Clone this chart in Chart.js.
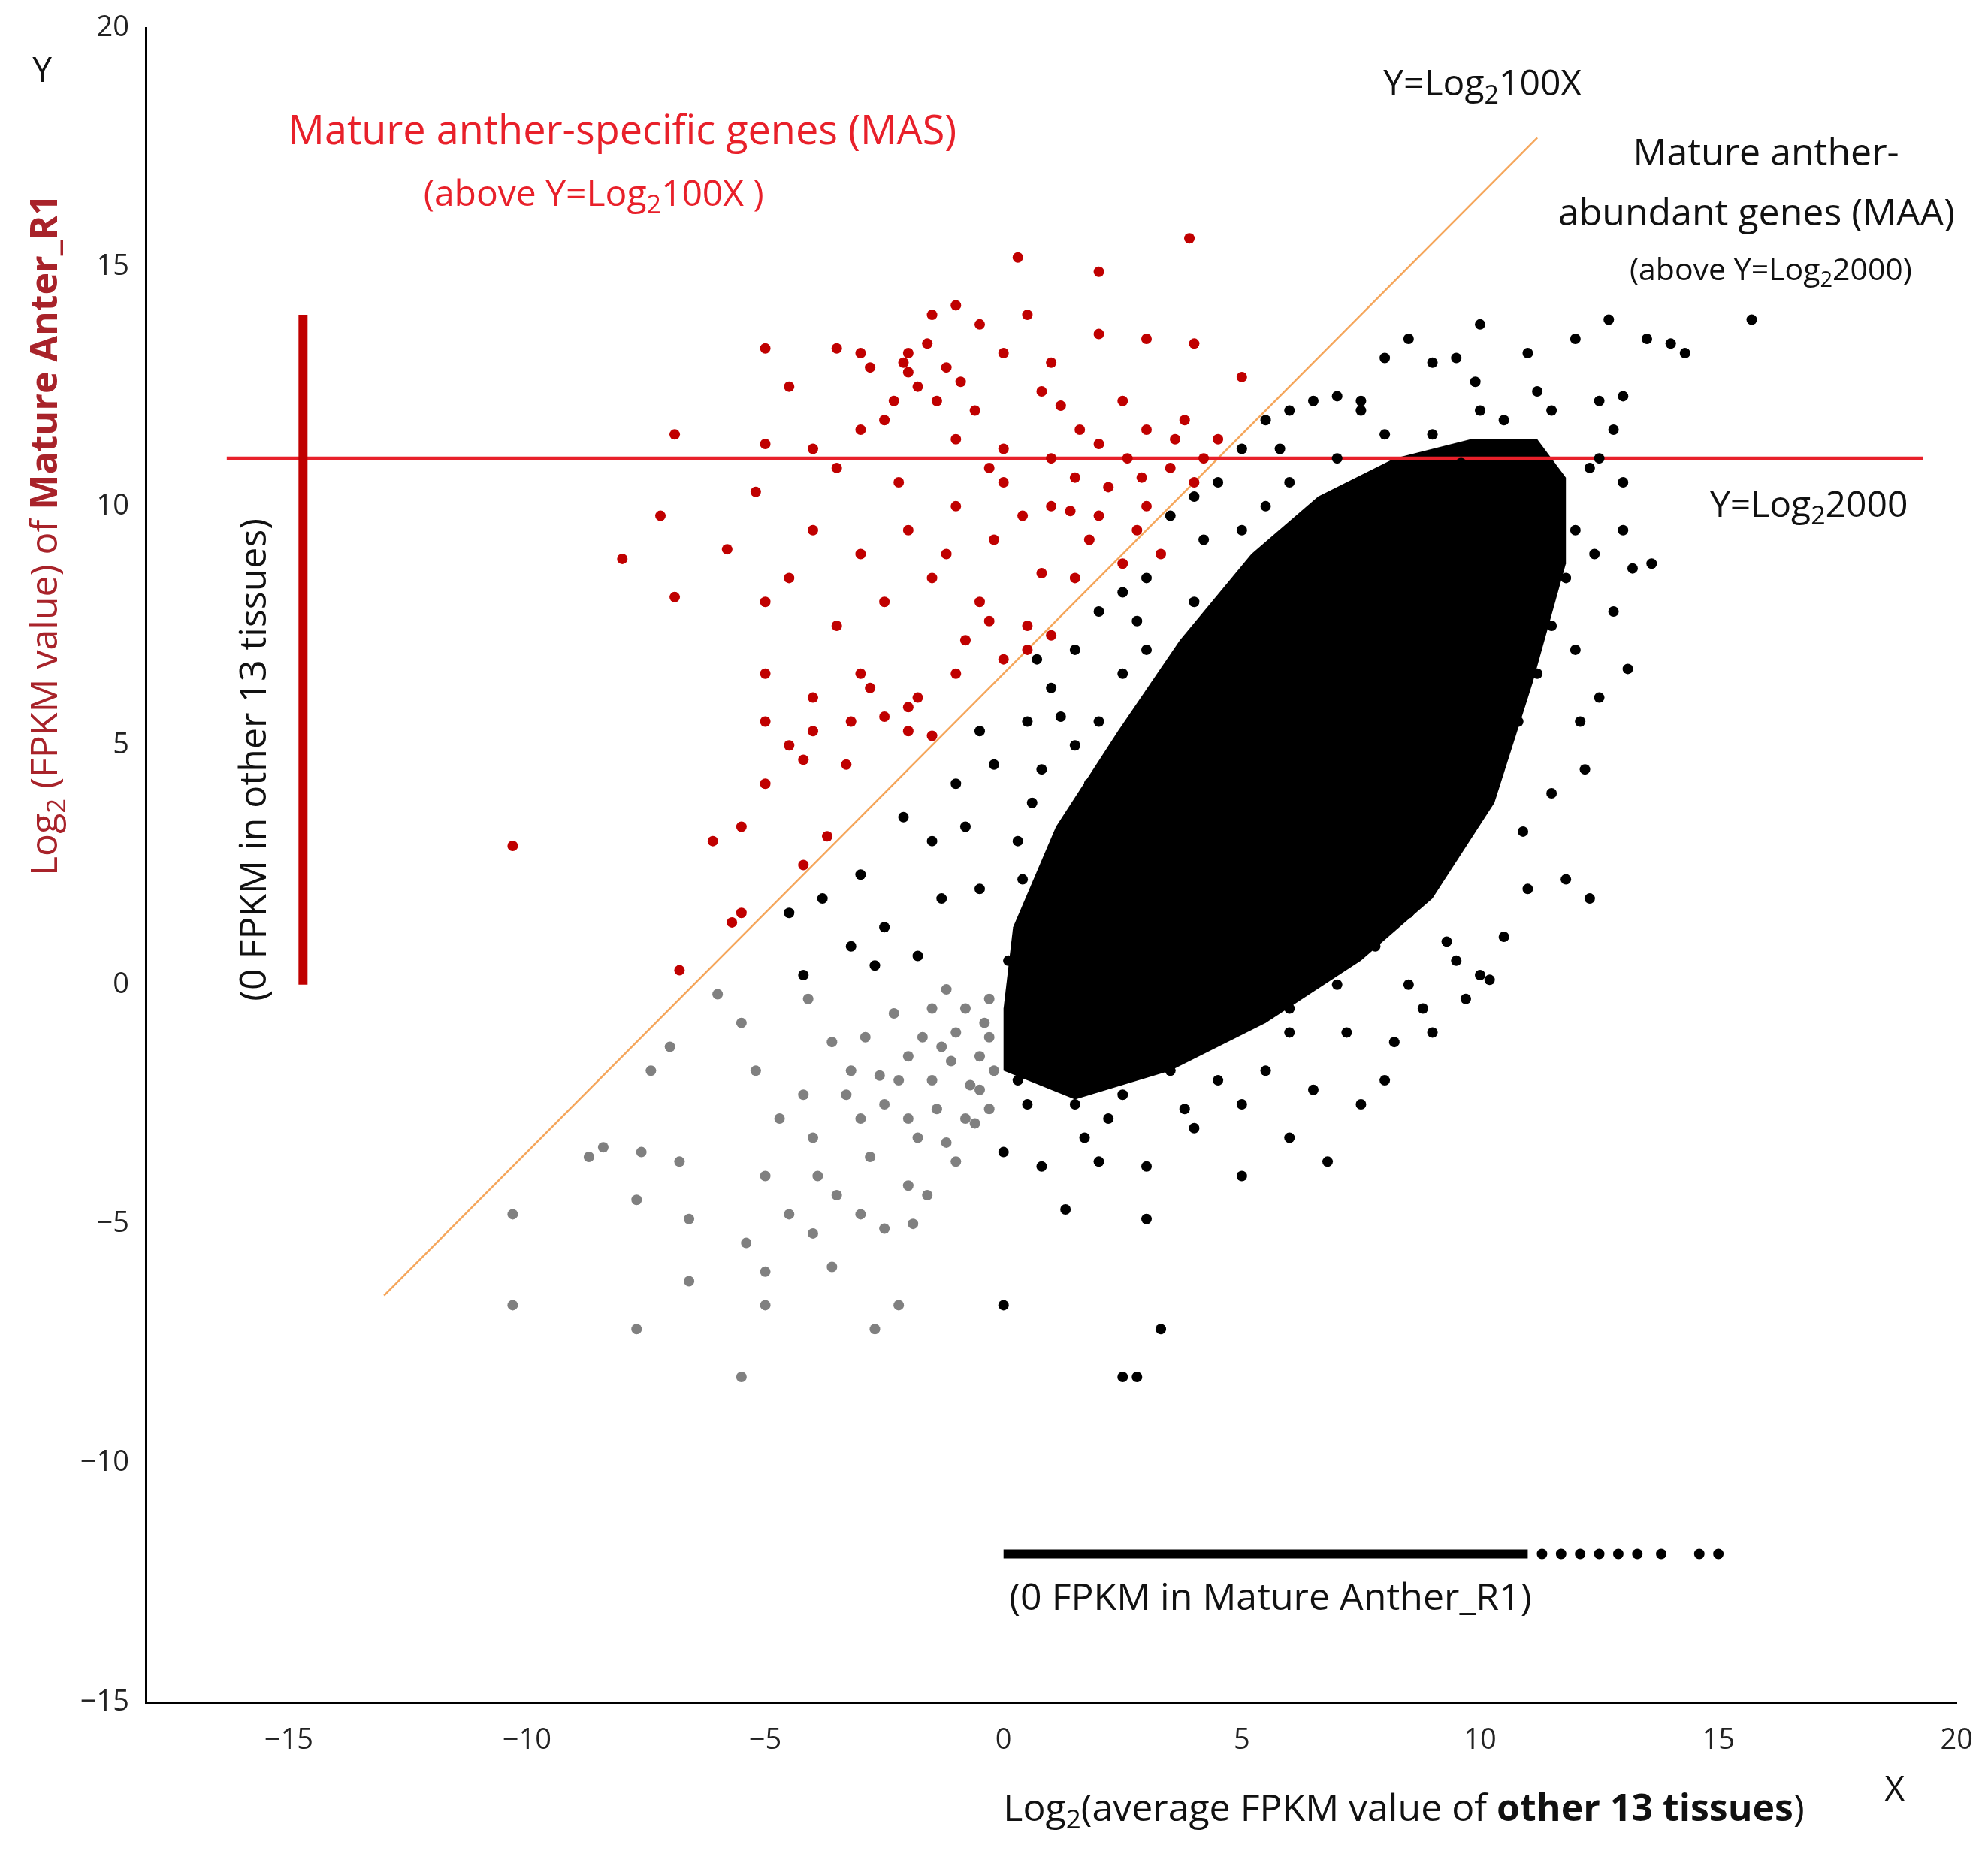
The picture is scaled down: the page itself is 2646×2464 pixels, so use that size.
<!DOCTYPE html>
<html><head><meta charset="utf-8">
<script src="https://cdn.jsdelivr.net/npm/chart.js@4/dist/chart.umd.min.js"></script>
<style>html,body{margin:0;background:#fff}#w{width:2646px;height:2464px}</style>
</head><body><div id="w"><canvas id="c"></canvas></div>
<script>
const xTicks=[-15,-10,-5,0,5,10,15,20];
const yTicks=[-15,-10,-5,0,5,10,15,20];
const masPoints=[[-5,13.3],[-4.5,12.5],[-3.5,13.3],[-3,13.2],[-2,13.2],[-1.5,14],[-1,14.2],[-0.5,13.8],[0,13.2],[0.5,14],[1,13],[2,13.6],[3,13.5],[4,13.4],[0.3,15.2],[2,14.9],[3.9,15.6],[-2,12.8],[-1.8,12.5],[-1.2,12.9],[-2.3,12.2],[-2.5,11.8],[-3,11.6],[-4,11.2],[-5,11.3],[-5.2,10.3],[-3.5,10.8],[-1,11.4],[0,11.2],[1,11],[2,11.3],[3,11.6],[3.8,11.8],[4.5,11.4],[5,12.7],[-6.9,11.5],[-7.2,9.8],[-8,8.9],[-6.9,8.1],[-5.8,9.1],[-5,8],[-4,9.5],[-3,9],[-2,9.5],[-1,10],[0,10.5],[1,10],[2,9.8],[3,10],[4,10.5],[-4.5,8.5],[-3.5,7.5],[-2.5,8],[-1.5,8.5],[-0.5,8],[0.5,7.5],[1.5,8.5],[2.5,8.8],[3.3,9],[-5,6.5],[-4,6],[-3,6.5],[-2,5.8],[-1.5,5.2],[-1,6.5],[0,6.8],[0.5,7],[1,7.3],[-5,5.5],[-4.5,5],[-4,5.3],[-3.2,5.5],[-2.5,5.6],[-2,5.3],[-3.3,4.6],[-5,4.2],[-6.1,3],[-5.5,3.3],[-5.5,1.5],[-5.7,1.3],[-4.2,2.5],[-3.7,3.1],[-10.3,2.9],[-6.8,0.3],[-1.8,6],[-0.8,7.2],[1.8,9.3],[2.8,9.5],[-2.2,10.5],[-0.3,10.8],[1.2,12.1],[-2.8,12.9],[-1.6,13.4],[-0.9,12.6],[0.8,12.4],[2.5,12.2],[3.5,10.8],[4.2,11],[1.5,10.6],[-0.2,9.3],[0.8,8.6],[2.2,10.4],[-2.1,13.0],[-1.4,12.2],[-0.6,12.0],[1.6,11.6],[0.4,9.8],[-1.2,9.0],[2.6,11.0],[3.6,11.4],[-4.2,4.7],[-2.8,6.2],[-0.3,7.6],[1.4,9.9],[2.9,10.6]];
const grayPoints=[[-6,-0.2],[-5.5,-0.8],[-7,-1.3],[-7.4,-1.8],[-8.4,-3.4],[-8.7,-3.6],[-7.6,-3.5],[-6.8,-3.7],[-10.3,-4.8],[-7.7,-4.5],[-6.6,-4.9],[-10.3,-6.7],[-7.7,-7.2],[-6.6,-6.2],[-5.4,-5.4],[-5,-6],[-5,-6.7],[-5.5,-8.2],[-2.7,-7.2],[-2.2,-6.7],[-3.6,-5.9],[-4,-5.2],[-3.5,-4.4],[-2,-4.2],[-1,-3.7],[-4,-3.2],[-3,-2.8],[-2.5,-2.5],[-1.5,-2],[-0.5,-1.5],[-1,-1],[-2,-1.5],[-0.3,-0.3],[-1.5,-0.5],[-0.8,-2.8],[-2.8,-3.6],[-4.2,-2.3],[-3.2,-1.8],[-1.8,-3.2],[-0.5,-2.2],[-5,-4],[-4.5,-4.8],[-2.5,-5.1],[-4.7,-2.8],[-3.6,-1.2],[-2.3,-0.6],[-1.2,-0.1],[-0.2,-1.8],[-5.2,-1.8],[-4.1,-0.3],[-0.6,-2.9],[-1.4,-2.6],[-3,-4.8],[-1.9,-5],[-2.2,-2],[-1.1,-1.6],[-0.4,-0.8],[-2.9,-1.1],[-3.9,-4],[-1.6,-4.4],[-0.8,-0.5],[-0.3,-1.1],[-1.3,-1.3],[-0.7,-2.1],[-1.7,-1.1],[-2.6,-1.9],[-3.3,-2.3],[-2.0,-2.8],[-1.2,-3.3],[-0.3,-2.6]];
const blackPoints=[[-4.5,1.5],[-3.8,1.8],[-3,2.3],[-2.5,1.2],[-2.1,3.5],[-1.5,3],[-1,4.2],[-0.5,2],[-1.8,0.6],[-3.2,0.8],[-4.2,0.2],[-2.7,0.4],[0.5,5.5],[1,6.2],[1.5,7],[2,7.8],[2.5,8.2],[3,8.5],[3.5,9.8],[4,10.2],[4.5,10.5],[5,11.2],[5.5,11.8],[6,12],[6.5,12.2],[7,12.3],[7.5,12.2],[8,13.1],[8.5,13.5],[9,13],[9.5,13.1],[10,13.8],[11,13.2],[12,13.5],[12.7,13.9],[13.5,13.5],[14,13.4],[14.3,13.2],[15.7,13.9],[11.5,12],[12.5,12.2],[13,12.3],[12.5,11],[13,10.5],[13,9.5],[13.2,8.7],[13.6,8.8],[12.8,7.8],[13.1,6.6],[12.5,6],[12.1,5.5],[12.2,4.5],[11.5,4],[11,2],[10.5,1],[10,0.2],[9.5,0.5],[11.8,2.2],[12.3,1.8],[9,-1],[8,-2],[7.5,-2.5],[6.8,-3.7],[6,-3.2],[5,-2.5],[5,-4],[4,-3],[3,-3.8],[3,-4.9],[2,-3.7],[1.3,-4.7],[0.8,-3.8],[0,-3.5],[0.5,-2.5],[1.5,-2.5],[2.5,-2.3],[3.5,-1.8],[0,-6.7],[3.3,-7.2],[2.5,-8.2],[2.8,-8.2],[4.5,-2],[6,-1],[8.5,0],[9.7,-0.3],[10.2,0.1],[0.3,3],[0.5,1],[1,-0.5],[0.8,4.5],[1.5,5],[2,5.5],[2.5,6.5],[3,7],[4,8],[5,9.5],[5.5,10],[6,10.5],[7,11],[8,11.5],[9,11.5],[10,12],[10.5,11.8],[11,11.2],[11.5,10.5],[12,9.5],[11.8,8.5],[11.5,7.5],[11.2,6.5],[10.8,5.5],[10.3,4.5],[9.8,3.5],[9.2,2.5],[8.5,1.5],[7.8,0.8],[7,0],[6,-0.5],[3.5,-0.5],[2,0],[1.5,1.5],[2,3],[1,2],[-0.2,4.6],[-0.5,5.3],[0.2,-1.2],[0.1,0.5],[0.3,-2],[1.2,-1.5],[2.2,-2.8],[4.2,-1.2],[5.5,-1.8],[7.2,-1],[8.8,-0.5],[0.4,2.2],[0.6,3.8],[1.8,4.2],[3.6,5.2],[4.6,7.5],[6.5,9.5],[8.5,10.8],[9.6,10.9],[10.8,10.2],[12.3,10.8],[12.8,11.6],[-1.3,1.8],[-0.8,3.3],[1.7,-3.2],[3.8,-2.6],[6.5,-2.2],[8.2,-1.2],[9.3,0.9],[10.9,3.2],[12.0,7.0],[12.4,9.0],[7.5,12.0],[4.2,9.3],[2.8,7.6],[1.2,5.6],[0.7,6.8],[5.8,11.2],[9.9,12.6],[11.2,12.4]];
const cloudOutline=[[0,-1.8],[1.5,-2.4],[3.5,-1.8],[5.5,-0.8],[7.5,0.5],[9,1.8],[10.3,3.8],[11.1,6.3],[11.8,8.8],[11.8,10.6],[11.2,11.4],[9.8,11.4],[8.2,11],[6.6,10.2],[5.2,9.0],[3.7,7.2],[2.4,5.3],[1.1,3.3],[0.2,1.2],[0,-0.5]];
const ownExprColumn=[[-14.7,0],[-14.7,14]];
const zeroAntherStrip=[[0,-11.9],[11,-11.9]];
const zeroAntherDots=[[11.3,-11.9],[11.7,-11.9],[12.1,-11.9],[12.5,-11.9],[12.9,-11.9],[13.3,-11.9],[13.8,-11.9],[14.6,-11.9],[15,-11.9]];
const lineMAA=[[-16.3,11],[19.3,11]];
const lineMAS=[[-13,-6.5],[11.2,17.7]];

const P=a=>a.map(p=>({x:p[0],y:p[1]}));
const FONT='"Open Sans","Noto Sans",sans-serif';

function rich(ctx,x,y,segs,size,align,color){
  ctx.save();ctx.fillStyle=color;ctx.textBaseline='middle';ctx.textAlign='left';
  const f=s=>(s.b?'bold ':'')+(s.sub?Math.round(size*0.7):size)+'px '+FONT;
  let w=0;segs.forEach(s=>{ctx.font=f(s);w+=ctx.measureText(s.t).width;});
  let cx=align==='center'?x-w/2:(align==='right'?x-w:x);
  segs.forEach(s=>{ctx.font=f(s);ctx.fillText(s.t,cx,y+(s.sub?size*0.3:0));cx+=ctx.measureText(s.t).width;});
  ctx.restore();
}
const cloudPlugin={id:'cloud',beforeDatasetsDraw(ch){
  const ctx=ch.ctx,X=ch.scales.x,Y=ch.scales.y;
  ctx.save();ctx.beginPath();
  cloudOutline.forEach((p,i)=>{const a=X.getPixelForValue(p[0]),b=Y.getPixelForValue(p[1]);i?ctx.lineTo(a,b):ctx.moveTo(a,b);});
  ctx.closePath();ctx.fillStyle='#000';ctx.fill();ctx.restore();
}};
const textPlugin={id:'txt',afterDraw(ch){
  const ctx=ch.ctx,X=ch.scales.x,Y=ch.scales.y;
  const px=v=>X.getPixelForValue(v),py=v=>Y.getPixelForValue(v);
  const red='#e8202a',blk='#111';
  rich(ctx,px(-8.0),py(17.8),[{t:'Mature anther-specific genes (MAS)'}],54,'center',red);
  rich(ctx,px(-8.6),py(16.5),[{t:'(above Y=Log'},{t:'2',sub:1},{t:'100X )'}],48,'center',red);
  rich(ctx,px(10.05),py(18.8),[{t:'Y=Log'},{t:'2',sub:1},{t:'100X'}],48,'center',blk);
  rich(ctx,px(16.0),py(17.35),[{t:'Mature anther-'}],50,'center',blk);
  rich(ctx,px(15.8),py(16.1),[{t:'abundant genes (MAA)'}],50,'center',blk);
  rich(ctx,px(16.1),py(14.9),[{t:'(above Y=Log'},{t:'2',sub:1},{t:'2000)'}],41,'center',blk);
  rich(ctx,px(16.9),py(10.0),[{t:'Y=Log'},{t:'2',sub:1},{t:'2000'}],48,'center',blk);
  rich(ctx,px(5.6),py(-12.85),[{t:'(0 FPKM in Mature Anther_R1)'}],50,'center',blk);
  rich(ctx,px(8.4),py(-17.25),[{t:'Log'},{t:'2',sub:1},{t:'(average FPKM value of '},{t:'other 13 tissues',b:1},{t:')'}],50,'center',blk);
  rich(ctx,px(18.7),py(-16.85),[{t:'X'}],46,'center',blk);
  rich(ctx,56,96,[{t:'Y'}],46,'center',blk);
  ctx.save();ctx.translate(px(-15.7),py(4.7));ctx.rotate(-Math.PI/2);
  rich(ctx,0,0,[{t:'(0 FPKM in other 13 tissues)'}],50,'center',blk);ctx.restore();
  ctx.save();ctx.translate(62,py(9.4));ctx.rotate(-Math.PI/2);
  rich(ctx,0,0,[{t:'Log'},{t:'2',sub:1},{t:' (FPKM value) of '},{t:'Mature Anter_R1',b:1}],50,'center','#a8232a');ctx.restore();
}};
const pt=(data,color,r)=>({type:'scatter',data:P(data),backgroundColor:color,borderWidth:0,pointRadius:r,pointHoverRadius:r});
const ln=(data,color,w)=>({type:'line',data:P(data),borderColor:color,borderWidth:w,pointRadius:0,fill:false,tension:0});
new Chart(document.getElementById('c'),{
  data:{datasets:[
    pt(blackPoints,'#000',7),
    pt(grayPoints,'#808080',7),
    pt(masPoints,'#c00000',7),
    ln(ownExprColumn,'#c00000',12),
    ln(zeroAntherStrip,'#000',12),
    pt(zeroAntherDots,'#000',7),
    ln(lineMAA,'#e8202a',5),
    ln(lineMAS,'#f5a65b',2.5)
  ]},
  options:{responsive:true,maintainAspectRatio:false,animation:false,
    layout:{padding:{top:37,right:34,left:0,bottom:0}},
    plugins:{legend:{display:false},tooltip:{enabled:false}},
    scales:{
      x:{type:'linear',min:-18,max:20,grid:{display:false},border:{display:true,color:'#000',width:3},
        afterBuildTicks:s=>{s.ticks=xTicks.map(v=>({value:v}));},
        afterFit:s=>{s.height=198;},
        ticks:{font:{size:38,family:FONT},color:'#222',padding:20,callback:v=>String(v).replace('-','\u2212')}},
      y:{type:'linear',min:-15,max:20,grid:{display:false},border:{display:true,color:'#000',width:3},
        afterBuildTicks:s=>{s.ticks=yTicks.map(v=>({value:v}));},
        afterFit:s=>{s.width=194;},
        ticks:{font:{size:38,family:FONT},color:'#222',padding:14,callback:v=>String(v).replace('-','\u2212')}}
    }},
  plugins:[cloudPlugin,textPlugin]
});
</script></body></html>
